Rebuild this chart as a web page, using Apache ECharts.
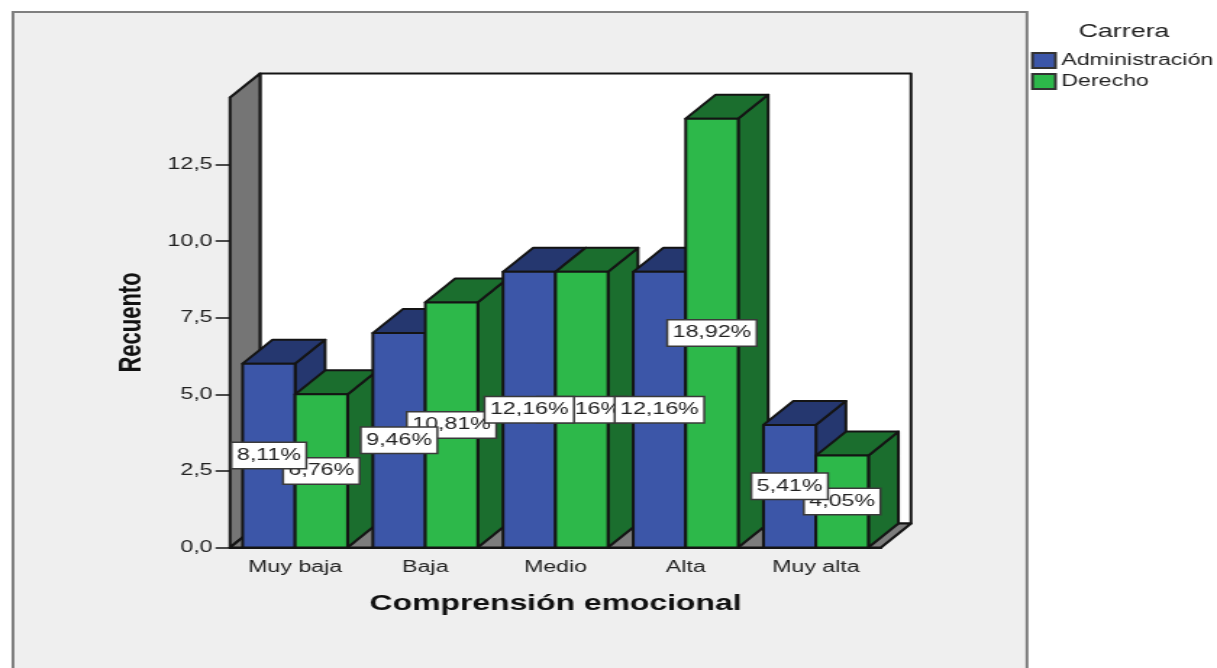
<!DOCTYPE html>
<html>
<head>
<meta charset="utf-8">
<script src="https://cdn.jsdelivr.net/npm/echarts@6/dist/echarts.min.js"></script>
<style>
html,body{margin:0;padding:0;background:#fff;overflow:hidden;width:1217px;height:668px}
/* the reference is an anamorphically stretched, soft picture: draw narrow, stretch wide */
#chart{width:840px;height:668px;transform-origin:0 0;transform:scaleX(1.44881);filter:blur(0.35px)}
</style>
</head>
<body>
<div id="chart"></div>
<script>
const categories = ['Muy baja', 'Baja', 'Medio', 'Alta', 'Muy alta'];
const administracion = [6, 7, 9, 9, 4];
const derecho = [5, 8, 9, 14, 3];
const administracionPct = ['8,11%', '9,46%', '12,16%', '12,16%', '5,41%'];
const derechoPct = ['6,76%', '10,81%', '12,16%', '18,92%', '4,05%'];
const yTicks = [0, 2.5, 5, 7.5, 10, 12.5];
const yMax = 14.69;
const serieNames = ['Administración', 'Derecho'];

const S = 1217 / 840;
const px = v => v / S;
const FONT = '"Liberation Sans", Arial, sans-serif';
const DX = px(30), DY = 24;
const BAR_RATIO = 0.403;
const LINE = '#141414';
const TEXT = '#222222';
const COLORS = [
  {front: '#3c56a8', dark: '#25376f'},
  {front: '#2db84a', dark: '#1b6e2e'}
];

function barRenderer(seriesIndex, labels) {
  return function (params, api) {
    const i = api.value(0), v = api.value(1);
    const base = api.coord([i, 0]), top = api.coord([i, v]), mid = api.coord([i, v / 2]);
    const bw = api.size([1, 0])[0] * BAR_RATIO;
    const x0 = base[0] - (seriesIndex === 0 ? bw : 0), x1 = x0 + bw;
    const y0 = base[1], y1 = top[1];
    const c = COLORS[seriesIndex];
    const z = 10 + i * 2 + seriesIndex;
    const stroke = {stroke: LINE, lineWidth: 2, lineJoin: 'round'};
    return {
      type: 'group',
      children: [
        {type: 'polygon', z2: z, shape: {points: [[x1, y0], [x1 + DX, y0 - DY], [x1 + DX, y1 - DY], [x1, y1]]},
          style: Object.assign({fill: c.dark}, stroke)},
        {type: 'polygon', z2: z, shape: {points: [[x0, y1], [x0 + DX, y1 - DY], [x1 + DX, y1 - DY], [x1, y1]]},
          style: Object.assign({fill: c.dark}, stroke)},
        {type: 'rect', z2: z, shape: {x: x0, y: y1, width: bw, height: y0 - y1},
          style: Object.assign({fill: c.front}, stroke)},
        {type: 'text', z2: 100 + (seriesIndex === 0 ? 10 : 0) + i, x: (x0 + x1) / 2, y: mid[1],
          style: {text: labels[i], fill: TEXT, font: '16px ' + FONT, align: 'center', verticalAlign: 'middle',
            backgroundColor: '#ffffff', borderColor: '#3a3a3a', borderWidth: 1.5, padding: [5, 3, 4, 3]}}
      ]
    };
  };
}

function wallRenderer(params) {
  const r = params.coordSys;
  const L = r.x, R = r.x + r.width, T = r.y, B = r.y + r.height;
  const stroke = {stroke: LINE, lineWidth: 2, lineJoin: 'round'};
  return {
    type: 'group',
    children: [
      {type: 'polygon', z2: 1, shape: {points: [[L + DX, T - DY], [R + DX, T - DY], [R + DX, B - DY], [L + DX, B - DY]]},
        style: Object.assign({fill: '#ffffff'}, stroke)},
      {type: 'polygon', z2: 2, shape: {points: [[L, T], [L + DX, T - DY], [L + DX, B - DY], [L, B]]},
        style: Object.assign({fill: '#757575'}, stroke)},
      {type: 'polygon', z2: 2, shape: {points: [[L, B], [L + DX, B - DY], [R + DX, B - DY], [R, B]]},
        style: Object.assign({fill: '#7d7d7d'}, stroke)}
    ]
  };
}

const chart = echarts.init(document.getElementById('chart'), null, {renderer: 'canvas', devicePixelRatio: 1});
chart.setOption({
  animation: false,
  backgroundColor: 'transparent',
  textStyle: {fontFamily: FONT},
  graphic: [{
    type: 'rect', z: -10, silent: true,
    shape: {x: px(13), y: 12, width: px(1014), height: 700},
    style: {fill: '#efefef', stroke: '#7f7f7f', lineWidth: 2}
  }],
  title: {
    text: 'Carrera', left: px(1124), top: 22, padding: 0, textAlign: 'center',
    textStyle: {fontFamily: FONT, fontSize: 18.5, fontWeight: 'normal', color: TEXT}
  },
  legend: {
    orient: 'vertical', left: px(1031), top: 52, padding: 0, itemWidth: px(23), itemHeight: 15, itemGap: 4,
    icon: 'rect', data: serieNames, selectedMode: false,
    itemStyle: {borderColor: '#333', borderWidth: 2},
    textStyle: {fontFamily: FONT, fontSize: 16, color: TEXT, padding: [0, 0, 0, -1]}
  },
  grid: {left: px(230), right: 840 - px(881), top: 97.5, height: 450, containLabel: false},
  xAxis: {
    type: 'category', data: categories,
    name: 'Comprensión emocional', nameLocation: 'middle', nameGap: 45,
    nameTextStyle: {fontFamily: FONT, fontSize: 22, fontWeight: 'bold', color: '#111'},
    axisLine: {lineStyle: {color: LINE, width: 2}},
    axisTick: {alignWithLabel: true, length: 9, lineStyle: {color: LINE, width: 1.5}},
    axisLabel: {fontFamily: FONT, fontSize: 16, color: TEXT, margin: 12}
  },
  yAxis: {
    type: 'value', min: 0, max: yMax,
    name: 'Recuento', nameLocation: 'middle', nameGap: 57,
    nameTextStyle: {fontFamily: FONT, fontSize: 22, fontWeight: 'bold', color: '#111'},
    splitLine: {show: false},
    axisLine: {show: true, lineStyle: {color: LINE, width: 2}},
    axisTick: {show: true, length: 10, customValues: yTicks, lineStyle: {color: LINE, width: 1.5}},
    axisLabel: {
      fontFamily: FONT, fontSize: 16, color: TEXT, margin: 12, customValues: yTicks,
      formatter: v => v.toFixed(1).replace('.', ',')
    }
  },
  series: [
    {
      type: 'custom', name: 'Paredes', z: 1, silent: true, clip: false,
      data: [[0, 0]], encode: {x: 0, y: 1}, renderItem: wallRenderer
    },
    {
      type: 'custom', name: serieNames[0], z: 2, silent: true, clip: false,
      itemStyle: {color: COLORS[0].front},
      data: administracion.map((v, i) => [i, v]), encode: {x: 0, y: 1},
      renderItem: barRenderer(0, administracionPct)
    },
    {
      type: 'custom', name: serieNames[1], z: 2, silent: true, clip: false,
      itemStyle: {color: COLORS[1].front},
      data: derecho.map((v, i) => [i, v]), encode: {x: 0, y: 1},
      renderItem: barRenderer(1, derechoPct)
    }
  ]
});
</script>
</body>
</html>
